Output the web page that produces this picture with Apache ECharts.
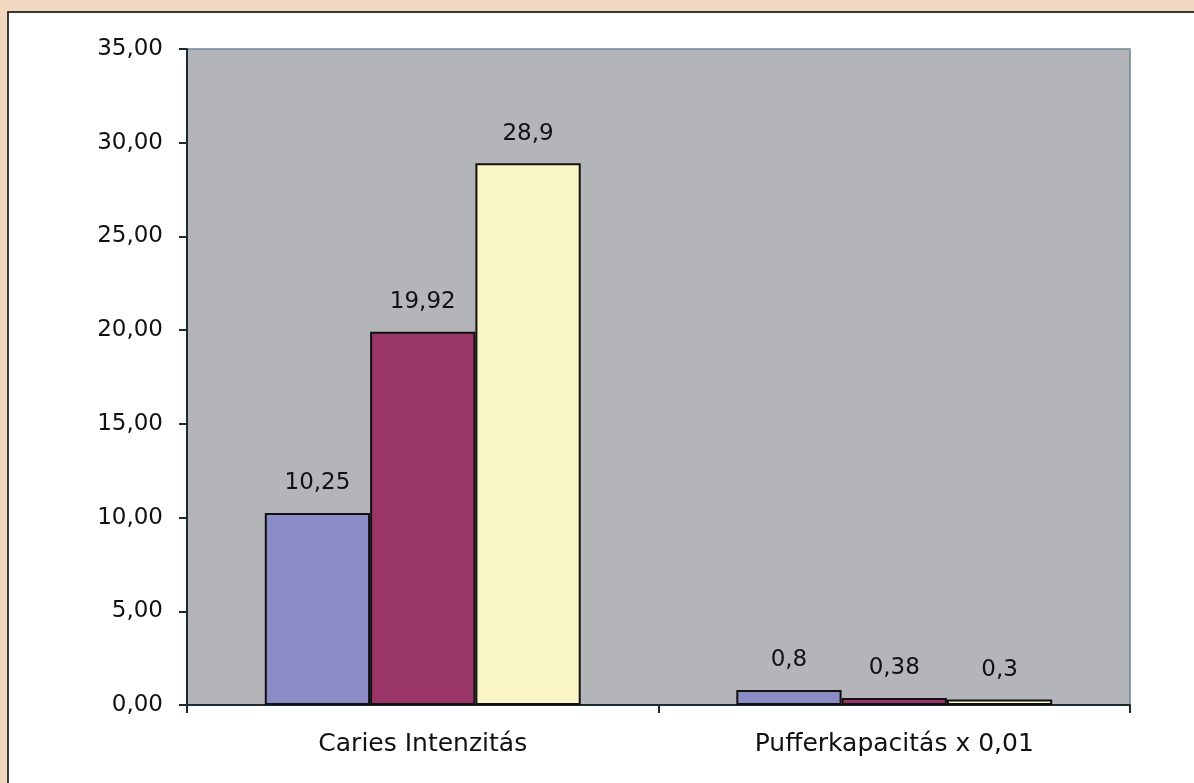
<!DOCTYPE html>
<html>
<head>
<meta charset="utf-8">
<script src="https://cdn.jsdelivr.net/npm/echarts@6/dist/echarts.min.js"></script>
<style>
  html, body { margin: 0; padding: 0; width: 1194px; height: 783px; background: #f1d7bf; overflow: hidden; }
  #panel { position: absolute; left: 7px; top: 11px; right: -4px; bottom: -4px; background: #ffffff; border-left: 2px solid #3a3632; border-top: 2px solid #3a3632; }
  #chart { position: absolute; left: 0; top: 0; width: 1194px; height: 783px; }
</style>
</head>
<body>
<div id="panel"></div>
<div id="chart"></div>
<script>
const categories = ['Caries Intenzitás', 'Pufferkapacitás x 0,01'];
const seriesNames = ['Csoport 1', 'Csoport 2', 'Csoport 3'];
const series1 = [10.25, 0.8];
const series2 = [19.92, 0.38];
const series3 = [28.9, 0.3];
const seriesColors = ['#8b8bc6', '#993567', '#faf6c6'];

const comma = v => String(v).replace('.', ',');
const font = '"DejaVu Sans", Verdana, sans-serif';

const chart = echarts.init(document.getElementById('chart'), null, { renderer: 'canvas' });
const mk = (name, data, color) => ({
  name: name,
  type: 'bar',
  data: data,
  barGap: '0%',
  barCategoryGap: '33%',
  itemStyle: { color: color, borderColor: '#111111', borderWidth: 2 },
  label: {
    show: true, position: 'top', distance: 18,
    formatter: p => comma(p.value),
    color: '#111111', fontFamily: font, fontSize: 23
  }
});
chart.setOption({
  backgroundColor: 'transparent',
  animation: false,
  grid: {
    left: 187, right: 64, top: 49, bottom: 78,
    show: true, backgroundColor: '#b4b5b9', borderColor: '#6d8590', borderWidth: 1.5
  },
  xAxis: {
    type: 'category',
    data: categories,
    axisLine: { lineStyle: { color: '#1c2a33', width: 2 } },
    axisTick: { show: true, alignWithLabel: false, length: 8, lineStyle: { color: '#1c2a33', width: 2 } },
    axisLabel: { color: '#111111', fontFamily: font, fontSize: 25, margin: 27 }
  },
  yAxis: {
    type: 'value',
    min: 0, max: 35, interval: 5,
    axisLine: { show: true, lineStyle: { color: '#1c2a33', width: 2 } },
    axisTick: { show: true, length: 8, lineStyle: { color: '#1c2a33', width: 2 } },
    splitLine: { show: false },
    axisLabel: { color: '#111111', fontFamily: font, fontSize: 23, margin: 24,
      formatter: v => v.toFixed(2).replace('.', ',') }
  },
  series: [
    mk(seriesNames[0], series1, seriesColors[0]),
    mk(seriesNames[1], series2, seriesColors[1]),
    mk(seriesNames[2], series3, seriesColors[2])
  ]
});
</script>
</body>
</html>
